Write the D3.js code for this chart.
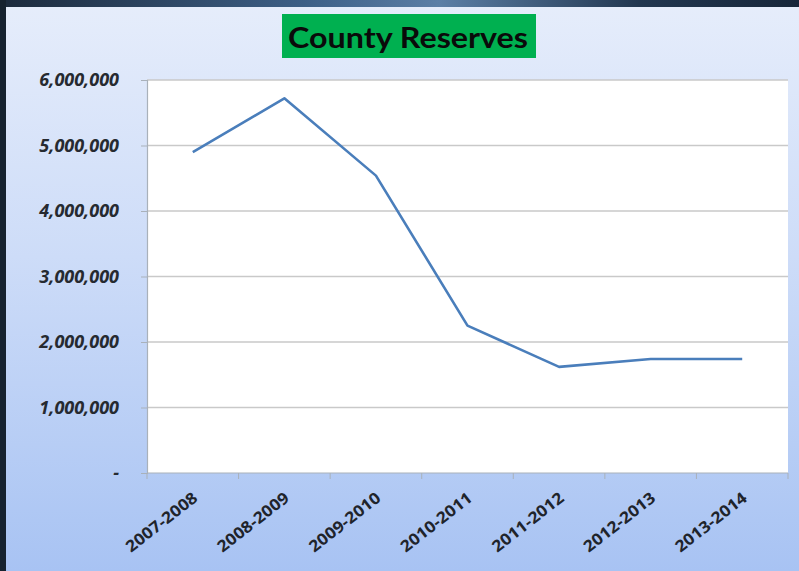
<!DOCTYPE html>
<html>
<head>
<meta charset="utf-8">
<script src="https://cdn.jsdelivr.net/npm/d3@7/dist/d3.min.js"></script>
<style>
  html, body { margin: 0; padding: 0; overflow: hidden; }
  body { width: 799px; height: 571px; }
</style>
</head>
<body>
<script>
// chart data
var years = ["2007-2008", "2008-2009", "2009-2010", "2010-2011", "2011-2012", "2012-2013", "2013-2014"];
var reserves = [4900000, 5720000, 4540000, 2250000, 1620000, 1740000, 1740000];
var yTicks = [0, 1000000, 2000000, 3000000, 4000000, 5000000, 6000000];
var chartTitle = "County Reserves";

var width = 799,
    height = 571;

var plot = { left: 147, right: 788, top: 80, bottom: 473 };

var svg = d3.select("body").append("svg")
    .attr("width", width)
    .attr("height", height);

var defs = svg.append("defs");
var bg = defs.append("linearGradient")
    .attr("id", "bg")
    .attr("x1", 0).attr("y1", 0).attr("x2", 0).attr("y2", 1);
bg.append("stop").attr("offset", "0%").attr("stop-color", "#e6edfb");
bg.append("stop").attr("offset", "45%").attr("stop-color", "#cddcf8");
bg.append("stop").attr("offset", "100%").attr("stop-color", "#a8c3f3");

var topBand = defs.append("linearGradient")
    .attr("id", "topband")
    .attr("x1", 0).attr("y1", 0).attr("x2", 1).attr("y2", 0);
topBand.append("stop").attr("offset", "0%").attr("stop-color", "#1c2a3c");
topBand.append("stop").attr("offset", "38%").attr("stop-color", "#3d5f86");
topBand.append("stop").attr("offset", "55%").attr("stop-color", "#5c7fa6");
topBand.append("stop").attr("offset", "80%").attr("stop-color", "#223750");
topBand.append("stop").attr("offset", "100%").attr("stop-color", "#17263a");

// background panel
svg.append("rect")
    .attr("width", width).attr("height", height)
    .attr("fill", "url(#bg)");

// dark frame at top and left
svg.append("rect")
    .attr("x", 0).attr("y", 0).attr("width", width).attr("height", 7)
    .attr("fill", "url(#topband)");
svg.append("rect")
    .attr("x", 0).attr("y", 0).attr("width", 6).attr("height", height)
    .attr("fill", "#16222f");

// title box
svg.append("rect")
    .attr("x", 282).attr("y", 14)
    .attr("width", 254).attr("height", 44)
    .attr("fill", "#00b050");
svg.append("text")
    .attr("x", 408).attr("y", 48)
    .attr("text-anchor", "middle")
    .attr("font-family", "Lato, 'Open Sans', sans-serif")
    .attr("font-weight", "bold")
    .attr("font-size", 29)
    .attr("fill", "#0a0a0a")
    .attr("textLength", 240)
    .attr("lengthAdjust", "spacingAndGlyphs")
    .text(chartTitle);

// scales
var x = d3.scaleBand()
    .domain(years)
    .range([plot.left, plot.right])
    .padding(0);

var y = d3.scaleLinear()
    .domain([0, 6000000])
    .range([plot.bottom, plot.top]);

// plot area
svg.append("rect")
    .attr("x", plot.left).attr("y", plot.top)
    .attr("width", plot.right - plot.left)
    .attr("height", plot.bottom - plot.top)
    .attr("fill", "#ffffff");

// gridlines
svg.append("g")
    .selectAll("line")
    .data(yTicks.filter(function(d) { return d > 0; }))
    .enter().append("line")
    .attr("x1", plot.left).attr("x2", plot.right)
    .attr("y1", function(d) { return y(d); })
    .attr("y2", function(d) { return y(d); })
    .attr("stroke", "#c9c9c9")
    .attr("stroke-width", 1.5);

// y axis
var fmt = function(d) { return d === 0 ? "-" : d3.format(",")(d); };
var yAxis = svg.append("g")
    .attr("transform", "translate(" + plot.left + ",0)")
    .call(d3.axisLeft(y).tickValues(yTicks).tickFormat(fmt).tickSize(6).tickPadding(22));
yAxis.select(".domain").attr("stroke", "#a9b1ba").attr("stroke-width", 1.2);
yAxis.selectAll(".tick line").attr("stroke", "#a9b1ba");
yAxis.selectAll("text")
    .attr("font-family", "'Open Sans', sans-serif")
    .attr("font-weight", "bold")
    .attr("font-style", "italic")
    .attr("font-size", 18)
    .attr("fill", "#262a30");

// x axis (ticks on category boundaries)
var xAxisG = svg.append("g")
    .attr("transform", "translate(0," + plot.bottom + ")");
xAxisG.append("line")
    .attr("x1", plot.left).attr("x2", plot.right)
    .attr("y1", 0).attr("y2", 0)
    .attr("stroke", "#a9b1ba").attr("stroke-width", 1.2);
var bounds = years.map(function(d) { return x(d); }).concat([plot.right]);
xAxisG.selectAll(".bound")
    .data(bounds)
    .enter().append("line")
    .attr("class", "bound")
    .attr("x1", function(d) { return d; }).attr("x2", function(d) { return d; })
    .attr("y1", 0).attr("y2", 6)
    .attr("stroke", "#a9b1ba");
xAxisG.selectAll(".lbl")
    .data(years)
    .enter().append("text")
    .attr("class", "lbl")
    .attr("transform", function(d) {
        return "translate(" + (x(d) + x.bandwidth() / 2 + 6) + ",27) rotate(-38)";
    })
    .attr("text-anchor", "end")
    .attr("font-family", "'Open Sans', sans-serif")
    .attr("font-weight", "bold")
    .attr("font-size", 16)
    .attr("textLength", 86)
    .attr("lengthAdjust", "spacingAndGlyphs")
    .attr("fill", "#1f242b")
    .text(function(d) { return d; });

// the line
var line = d3.line()
    .x(function(d, i) { return x(years[i]) + x.bandwidth() / 2; })
    .y(function(d) { return y(d); });

svg.append("path")
    .datum(reserves)
    .attr("d", line)
    .attr("fill", "none")
    .attr("stroke", "#4a7ebb")
    .attr("stroke-width", 2.6)
    .attr("stroke-linejoin", "round");
</script>
</body>
</html>
